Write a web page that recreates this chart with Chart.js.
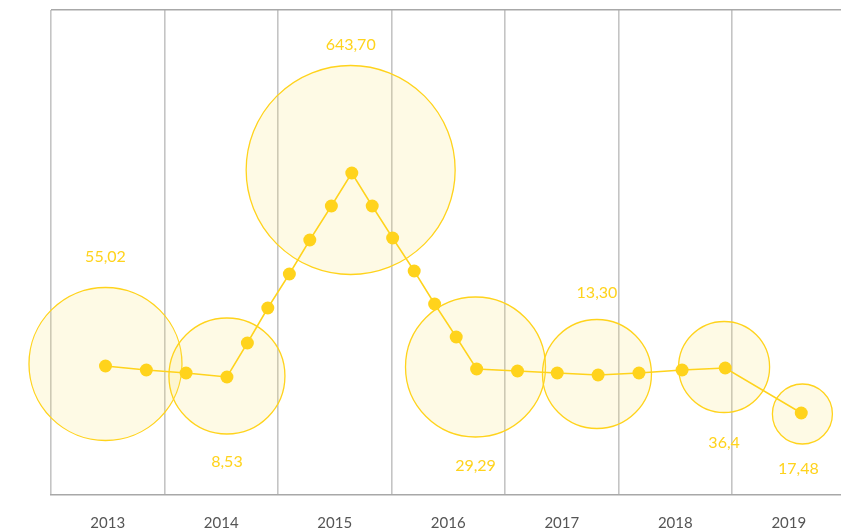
<!DOCTYPE html>
<html>
<head>
<meta charset="utf-8">
<script src="https://cdn.jsdelivr.net/npm/chart.js@4/dist/chart.umd.min.js"></script>
<style>
  body { margin: 0; background: #fff; }
  canvas { display: block; }
</style>
</head>
<body>
<canvas id="bubble-chart" width="841" height="532"></canvas>
<script>
// years shown under the bands
const years = ['2013', '2014', '2015', '2016', '2017', '2018', '2019'];

// trend line (x = position along the years, y = relative level)
const lineX = [0.48, 0.84, 1.19, 1.55, 1.73, 1.91, 2.10, 2.28, 2.47, 2.65, 2.83, 3.01,
               3.20, 3.38, 3.57, 3.75, 4.11, 4.46, 4.82, 5.18, 5.56, 5.94, 6.61];
const lineY = [129, 125, 122, 118, 152, 187, 221, 255, 289, 322, 289, 257,
               224, 191, 158, 126, 124, 122, 120, 122, 125, 127, 82];

// one bubble per year
const bubbleX = [0.48, 1.55, 2.64, 3.74, 4.81, 5.93, 6.62];
const bubbleY = [131, 119, 325, 128, 121, 128, 81];
const bubbleSize = [76.5, 58, 104.5, 70, 54.5, 45.5, 30];
const bubbleLabels = ['55,02', '8,53', '643,70', '29,29', '13,30', '36,4', '17,48'];

const gold = '#FFD31C';
// label above (-1) or below (1) the bubble, and its gap from the rim
const labelSide = [-1, 1, -1, 1, -1, 1, 1];
const labelGap = [31, 28, 21, 29, 27, 30, 25];

const bubbleLabelPlugin = {
  id: 'bubbleLabels',
  afterDatasetsDraw: function (chart) {
    const ctx = chart.ctx;
    const meta = chart.getDatasetMeta(0);
    ctx.save();
    ctx.font = '16px Lato';
    ctx.fillStyle = gold;
    ctx.textAlign = 'center';
    ctx.textBaseline = 'middle';
    meta.data.forEach(function (el, i) {
      const y = el.y + labelSide[i] * (bubbleSize[i] + labelGap[i]);
      const x = i === 6 ? el.x - 4 : el.x;
      ctx.fillText(bubbleLabels[i], x, y);
    });
    ctx.restore();
  }
};

function makeChart() {
  const ctx = document.getElementById('bubble-chart').getContext('2d');
  new Chart(ctx, {
    type: 'bubble',
    data: {
      datasets: [{
        type: 'bubble',
        data: bubbleX.map(function (x, i) { return { x: x, y: bubbleY[i], r: bubbleSize[i] }; }),
        backgroundColor: 'rgba(250, 225, 110, 0.18)',
        borderColor: gold,
        borderWidth: 1.3,
        clip: false,
        order: 2
      }, {
        type: 'line',
        data: lineX.map(function (x, i) { return { x: x, y: lineY[i] }; }),
        borderColor: gold,
        borderWidth: 1.5,
        backgroundColor: gold,
        pointBackgroundColor: gold,
        pointBorderWidth: 0,
        pointRadius: 6.5,
        fill: false,
        tension: 0,
        clip: false,
        order: 1
      }]
    },
    options: {
      responsive: false,
      animation: false,
      layout: { autoPadding: false, padding: { left: 51, top: 10, right: 0, bottom: 0 } },
      plugins: {
        legend: { display: false },
        tooltip: { enabled: false }
      },
      scales: {
        x: {
          type: 'linear',
          min: 0,
          max: 6.96,
          afterBuildTicks: function (scale) {
            scale.ticks = years.map(function (y, i) { return { value: i }; });
          },
          afterFit: function (scale) { scale.height = 0; },
          ticks: { display: false },
          grid: { color: '#c4c4c4', lineWidth: 1.6, drawTicks: false },
          border: { display: true, color: '#a8a8a8', width: 1.5 }
        },
        years: {
          type: 'linear',
          position: 'bottom',
          min: 0,
          max: 6.96,
          afterBuildTicks: function (scale) {
            scale.ticks = years.map(function (y, i) { return { value: i + 0.5 }; });
          },
          afterFit: function (scale) { scale.height = 37; },
          ticks: {
            padding: 19,
            maxRotation: 0,
            color: '#555',
            font: { family: 'Lato', size: 15 },
            callback: function (v) { return years[Math.floor(v)]; }
          },
          grid: { display: false, drawTicks: false },
          border: { display: false }
        },
        y: {
          min: 0,
          max: 485,
          afterBuildTicks: function (scale) {
            scale.ticks = [{ value: 485 }];
          },
          afterFit: function (scale) { scale.width = 0; },
          ticks: { display: false },
          grid: { color: '#a8a8a8', lineWidth: 1.5, drawTicks: false },
          border: { display: false }
        }
      }
    },
    plugins: [bubbleLabelPlugin]
  });
}

makeChart();
</script>
</body>
</html>
